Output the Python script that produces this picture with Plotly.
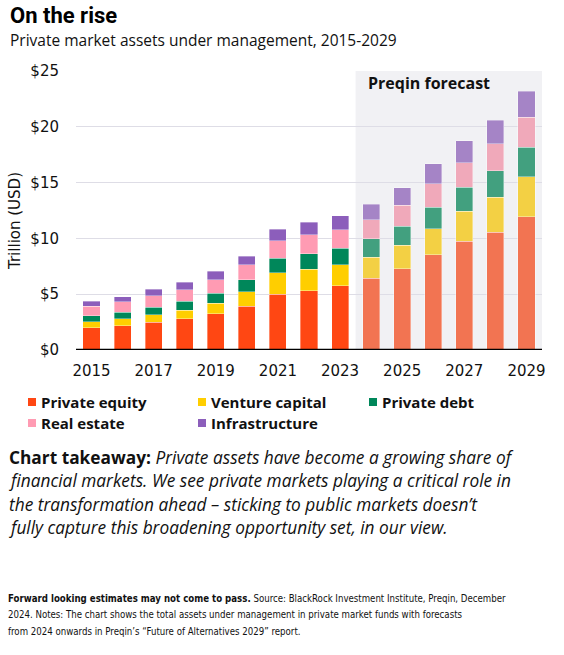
import plotly.graph_objects as go

years = [str(y) for y in range(2015, 2030)]
private_equity = [2.00, 2.18, 2.48, 2.78, 3.23, 3.91, 4.99, 5.29, 5.76, 6.42, 7.26, 8.54, 9.74, 10.57, 11.92]
venture_capital = [0.54, 0.60, 0.66, 0.77, 0.95, 1.29, 1.94, 1.94, 1.89, 1.91, 2.12, 2.33, 2.69, 3.11, 3.61]
private_debt = [0.51, 0.60, 0.68, 0.81, 0.90, 1.10, 1.28, 1.40, 1.49, 1.62, 1.73, 1.94, 2.15, 2.39, 2.66]
real_estate = [0.89, 0.95, 1.02, 1.05, 1.22, 1.32, 1.59, 1.70, 1.64, 1.73, 1.85, 2.09, 2.21, 2.42, 2.66]
infrastructure = [0.42, 0.45, 0.60, 0.68, 0.75, 0.80, 1.01, 1.11, 1.26, 1.40, 1.56, 1.80, 1.94, 2.09, 2.33]
forecast_start = "2024"
tick_years = ["2015", "2017", "2019", "2021", "2023", "2025", "2027", "2029"]
y_ticks = [0, 5, 10, 15, 20, 25]
y_tick_labels = ["$0", "$5", "$10", "$15", "$20", "$25"]

series = [
    ("Private equity", private_equity, "#FF4713", "#F27452"),
    ("Venture capital", venture_capital, "#FFCE00", "#F3D044"),
    ("Private debt", private_debt, "#00875A", "#42A07F"),
    ("Real estate", real_estate, "#FF9BB3", "#F0A9BA"),
    ("Infrastructure", infrastructure, "#8C5EBB", "#A584C6"),
]

takeaway_lines = [
    "<b>Chart takeaway:</b> <i>Private assets have become a growing share of</i>",
    "<i>financial markets. We see private markets playing a critical role in</i>",
    "<i>the transformation ahead – sticking to public markets doesn’t</i>",
    "<i>fully capture this broadening opportunity set, in our view.</i>",
]
footnote_lines = [
    "<b>Forward looking estimates may not come to pass.</b> Source: BlackRock Investment Institute, Preqin, December",
    "2024. Notes: The chart shows the total assets under management in private market funds with forecasts",
    "from 2024 onwards in Preqin’s “Future of Alternatives 2029” report.",
]

fc_idx = years.index(forecast_start)
FONT = "Open Sans"
TICKFONT = "DejaVu Sans"

W, H = 564, 655
ML, MR, MT, MB = 76, 22, 71, 305
PW, PH = W - ML - MR, H - MT - MB


def px(x):
    return (x - ML) / PW


def py(y):
    return (H - MB - y) / PH


fig = go.Figure()
for name, vals, hist_c, fc_c in series:
    colors = [hist_c if i < fc_idx else fc_c for i in range(len(years))]
    fig.add_trace(go.Bar(
        x=years, y=vals, name=name,
        marker=dict(color=colors, line=dict(color="rgba(255,255,255,0.6)", width=0.6)),
        width=0.55, showlegend=False,
    ))

fig.update_layout(
    barmode="stack",
    width=W, height=H,
    margin=dict(l=ML, r=MR, t=MT, b=MB, autoexpand=False),
    paper_bgcolor="white", plot_bgcolor="white",
    font=dict(family=FONT, color="#111111"),
    showlegend=False,
)

fig.update_xaxes(
    type="category", range=[-0.5, 14.5],
    tickmode="array", tickvals=tick_years, ticktext=tick_years,
    tickfont=dict(size=15, family=TICKFONT, color="#111111"),
    showgrid=False, showline=False, ticks="", ticklen=0, ticklabelstandoff=10,
)
fig.update_yaxes(
    range=[0, 25], tickmode="array", tickvals=y_ticks, ticktext=y_tick_labels,
    tickfont=dict(size=15, family=TICKFONT, color="#111111"),
    showgrid=True, gridcolor="#DEDDE6", gridwidth=1.2,
    zeroline=False, showline=False, ticks="", ticklabelstandoff=16,
)

# forecast shading
fig.add_shape(type="rect", xref="x", yref="y", x0=fc_idx - 0.5, x1=len(years) - 0.5,
              y0=0, y1=25, fillcolor="#F1F1F4", line=dict(width=0), layer="below")
# baseline
fig.add_shape(type="line", xref="paper", yref="y", x0=0, x1=1, y0=0, y1=0,
              line=dict(color="black", width=2.5))

fig.add_annotation(xref="paper", yref="paper", x=px(366), y=py(83),
                   text="<b>Preqin forecast</b>", showarrow=False, xanchor="left", yanchor="middle",
                   font=dict(size=16, family=FONT, color="#111111"))

# y-axis title
fig.add_annotation(xref="paper", yref="paper", x=px(15), y=py(221), textangle=-90,
                   text="Trillion (USD)", showarrow=False, xanchor="center", yanchor="middle",
                   font=dict(size=15, family=TICKFONT, color="#111111"))

# manual legend
legend_pos = [(28, 402), (198, 402), (369, 402), (28, 423), (198, 423)]
for (name, vals, hist_c, fc_c), (lx, ly) in zip(series, legend_pos):
    fig.add_shape(type="rect", xref="paper", yref="paper",
                  x0=px(lx), x1=px(lx + 8), y0=py(ly - 4), y1=py(ly + 4),
                  fillcolor=hist_c, line=dict(width=0))
    fig.add_annotation(xref="paper", yref="paper", x=px(lx + 11), y=py(ly),
                       xanchor="left", yanchor="middle", showarrow=False,
                       text=f"<b>{name}</b>", font=dict(size=15, family=FONT, color="#111111"))

# titles
fig.add_annotation(xref="paper", yref="paper", x=px(8), y=py(15),
                   xanchor="left", yanchor="middle", showarrow=False,
                   text="<b>On the rise</b>", font=dict(size=22, family="Roboto", color="black"))
fig.add_annotation(xref="paper", yref="paper", x=px(8), y=py(40),
                   xanchor="left", yanchor="middle", showarrow=False,
                   text="Private market assets under management, 2015-2029",
                   font=dict(size=15.5, family=FONT, color="#111111"))

for i, line in enumerate(takeaway_lines):
    fig.add_annotation(xref="paper", yref="paper", x=px(7), y=py(457 + 23.5 * i),
                       xanchor="left", yanchor="middle", showarrow=False, align="left",
                       text=line, font=dict(size=17.3, family=FONT, color="#111111"))

for i, line in enumerate(footnote_lines):
    fig.add_annotation(xref="paper", yref="paper", x=px(6), y=py(598 + 16.5 * i),
                       xanchor="left", yanchor="middle", showarrow=False, align="left",
                       text=line, font=dict(size=9.6, family="DejaVu Sans Condensed, Roboto", color="#111111"))

fig.write_html("out.html", post_script="document.body.style.margin='0';",
               config={"displayModeBar": False})
